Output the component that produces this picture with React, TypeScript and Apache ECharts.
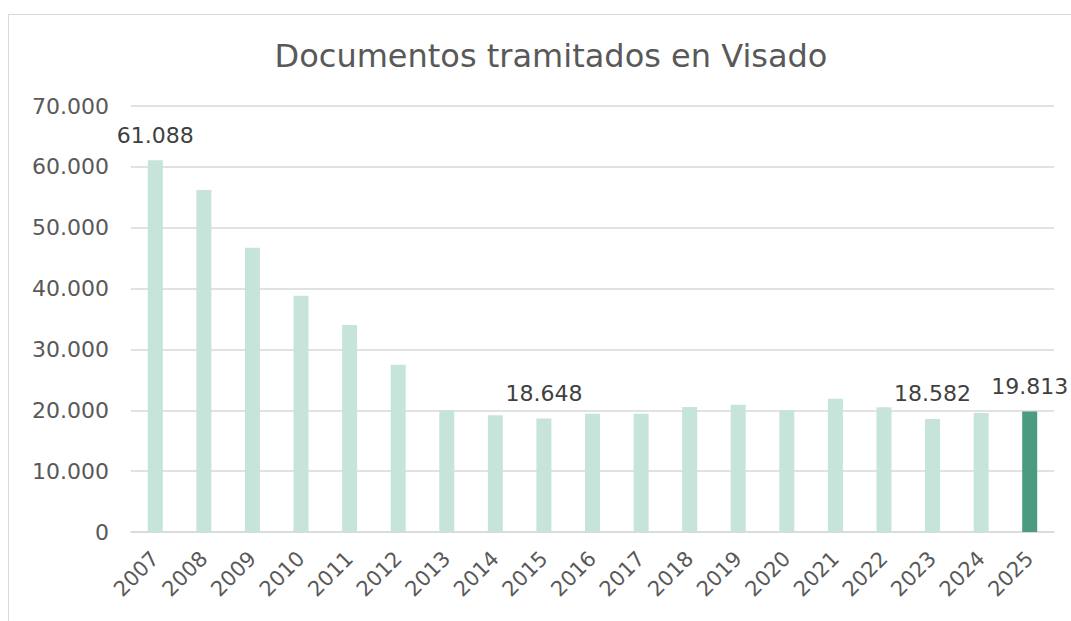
import React, { useEffect, useRef } from "react";
import * as echarts from "echarts";

const title = "Documentos tramitados en Visado";
const years = ["2007","2008","2009","2010","2011","2012","2013","2014","2015","2016","2017","2018","2019","2020","2021","2022","2023","2024","2025"];
const values = [61088, 56200, 46700, 38800, 34000, 27500, 20000, 19200, 18648, 19450, 19450, 20550, 20900, 20000, 21900, 20500, 18582, 19550, 19813];
const labelledYears = ["2007", "2015", "2023", "2025"];
const highlightYear = "2025";
const yTicks = { min: 0, max: 70000, interval: 10000 };

const FONT = "DejaVu Sans";

function fmt(v: number): string {
  return String(Math.round(v)).replace(/\B(?=(\d{3})+(?!\d))/g, ".");
}

export default function App() {
  const ref = useRef<HTMLDivElement>(null);
  useEffect(() => {
    if (!ref.current) return;
    const chart = echarts.init(ref.current, null, { renderer: "svg" });
    chart.setOption({
      animation: false,
      backgroundColor: "#ffffff",
      title: {
        text: title,
        left: 546,
        textAlign: "center",
        top: 35,
        textStyle: { fontFamily: FONT, fontSize: 32, fontWeight: "normal", color: "#595959" },
      },
      graphic: [
        { type: "line", shape: { x1: 8.5, y1: 14, x2: 8.5, y2: 621 }, style: { stroke: "#d9d9d9", lineWidth: 1 } },
        { type: "line", shape: { x1: 8, y1: 14.5, x2: 1071, y2: 14.5 }, style: { stroke: "#d9d9d9", lineWidth: 1 } },
      ],
      grid: { left: 131, right: 17, top: 106, bottom: 89, containLabel: false },
      xAxis: {
        type: "category",
        data: years,
        axisTick: { show: false },
        axisLine: { show: true, lineStyle: { color: "#d9d9d9", width: 1.5 } },
        axisLabel: {
          rotate: 45,
          margin: 23,
          interval: 0,
          fontFamily: FONT,
          fontSize: 21,
          color: "#595959",
        },
      },
      yAxis: {
        type: "value",
        min: yTicks.min,
        max: yTicks.max,
        interval: yTicks.interval,
        axisLine: { show: false },
        axisTick: { show: false },
        splitLine: { lineStyle: { color: "#d9d9d9", width: 1.5 } },
        axisLabel: {
          margin: 22,
          fontFamily: FONT,
          fontSize: 22,
          color: "#595959",
          formatter: (v: number) => fmt(v),
        },
      },
      series: [
        {
          type: "bar",
          barWidth: 15,
          data: values.map((v, i) => ({
            value: v,
            itemStyle: { color: years[i] === highlightYear ? "#4a9b80" : "#c6e4da" },
            label: {
              show: labelledYears.includes(years[i]),
              position: "top",
              distance: 14,
              fontFamily: FONT,
              fontSize: 22,
              color: "#404040",
              formatter: () => fmt(v),
            },
          })),
        },
      ],
    });
    return () => chart.dispose();
  }, []);
  return (
    <div
      ref={ref}
      style={{ position: "absolute", left: 0, top: 0, width: 1071, height: 621 }}
    />
  );
}
